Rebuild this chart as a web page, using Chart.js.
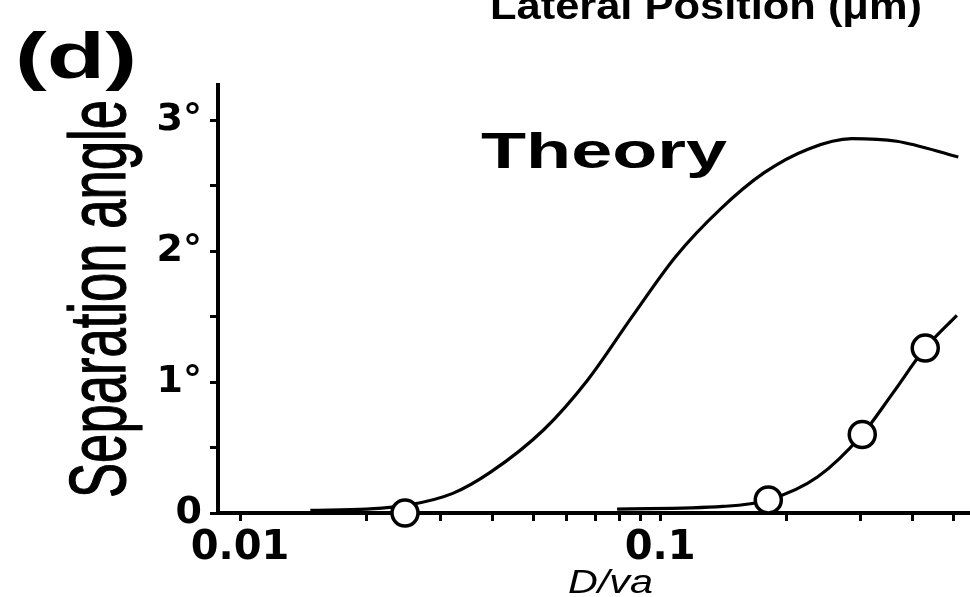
<!DOCTYPE html>
<html lang="en">
<head>
    <meta charset="UTF-8">
    <title>Separation angle vs D/va</title>
    <script src="https://cdn.jsdelivr.net/npm/chart.js"></script>
    <style>
        body { margin: 0; background: #fff; }
        canvas { display: block; }
    </style>
</head>
<body>
    <canvas id="angleChart" width="970" height="597"></canvas>

    <script>
        // Theory curve: separation angle (degrees) against D/va
        const theoryX = [0.0147, 0.020, 0.0251, 0.0321, 0.0394, 0.053, 0.0674, 0.0858, 0.109, 0.139, 0.177, 0.225, 0.286, 0.366, 0.513];
        const theoryY = [0.02, 0.03, 0.06, 0.15, 0.31, 0.64, 1.02, 1.50, 1.96, 2.32, 2.60, 2.78, 2.86, 2.84, 2.72];

        // Measured points and the curve through them
        const measuredX = [0.0247, 0.181, 0.303, 0.428];
        const measuredY = [0, 0.10, 0.60, 1.26];
        const fitX = [0.079, 0.141, 0.181, 0.237, 0.303, 0.359, 0.428, 0.509];
        const fitY = [0.03, 0.05, 0.10, 0.275, 0.60, 0.92, 1.26, 1.51];

        // Axis ticks
        const xTicks = [0.01, 0.02, 0.03, 0.04, 0.05, 0.06, 0.07, 0.08, 0.09, 0.1, 0.2, 0.3, 0.4, 0.5];
        const xTickLabels = { 0.01: '0.01', 0.1: '0.1' };
        const yTicks = [0, 0.5, 1, 1.5, 2, 2.5, 3];
        const yTickLabels = ['0', '', '1°', '', '2°', '', '3°'];

        const toPoints = (xs, ys) => xs.map((x, i) => ({ x: x, y: ys[i] }));

        // text squeezed/stretched horizontally to sit between left and right
        function wideText(ctx, str, font, left, right, baseline) {
            ctx.save();
            ctx.font = font;
            ctx.textAlign = 'left';
            ctx.textBaseline = 'alphabetic';
            const w = ctx.measureText(str).width;
            ctx.translate(left, baseline);
            ctx.scale((right - left) / w, 1);
            ctx.fillText(str, 0, 0);
            ctx.restore();
        }

        const labelsPlugin = {
            id: 'labels',
            afterDraw(chart) {
                const ctx = chart.ctx;
                ctx.fillStyle = '#000';
                wideText(ctx, '(d)', 'bold 64px "Liberation Sans"', 15, 137, 78);
                wideText(ctx, 'Lateral Position (μm)', 'bold 38px "Liberation Sans"', 490, 922, 19);
                wideText(ctx, 'Theory', 'bold 50px "Liberation Sans"', 481, 727, 168);
                wideText(ctx, 'D/va', 'italic 33px "Liberation Sans"', 568, 653, 593);

                // y axis title, rotated
                ctx.save();
                ctx.font = '53px "Liberation Sans"';
                ctx.textAlign = 'left';
                ctx.textBaseline = 'alphabetic';
                ctx.strokeStyle = '#000';
                ctx.lineWidth = 0.8;
                const w = ctx.measureText('Separation angle').width;
                ctx.translate(125, 498);
                ctx.scale(1.5, 1);
                ctx.rotate(-Math.PI / 2);
                ctx.scale(398 / w, 1);
                ctx.fillText('Separation angle', 0, 0);
                ctx.strokeText('Separation angle', 0, 0);
                ctx.restore();
            }
        };

        const ctx = document.getElementById('angleChart').getContext('2d');
        new Chart(ctx, {
            type: 'scatter',
            data: {
                datasets: [
                    {
                        label: 'Measured',
                        data: toPoints(measuredX, measuredY),
                        pointRadius: 13,
                        pointBorderWidth: 3.5,
                        pointBorderColor: '#000',
                        pointBackgroundColor: '#fff',
                        showLine: false,
                        clip: false,
                        order: 0
                    },
                    {
                        label: 'Theory',
                        data: toPoints(theoryX, theoryY),
                        showLine: true,
                        borderColor: '#000',
                        borderWidth: 3.2,
                        pointRadius: 0,
                        cubicInterpolationMode: 'monotone',
                        order: 1
                    },
                    {
                        label: 'Fit',
                        data: toPoints(fitX, fitY),
                        showLine: true,
                        borderColor: '#000',
                        borderWidth: 3.2,
                        pointRadius: 0,
                        cubicInterpolationMode: 'monotone',
                        order: 2
                    }
                ]
            },
            options: {
                responsive: false,
                animation: false,
                layout: {
                    autoPadding: false,
                    padding: { top: 85, right: 0, bottom: 0, left: 0 }
                },
                plugins: {
                    legend: { display: false },
                    tooltip: { enabled: false }
                },
                scales: {
                    x: {
                        type: 'logarithmic',
                        min: 0.00886,
                        max: 0.547,
                        afterBuildTicks: (scale) => {
                            scale.ticks = xTicks.map(v => ({ value: v }));
                        },
                        afterFit: (scale) => { scale.height = 84; },
                        border: { display: true, color: '#000', width: 4 },
                        grid: {
                            drawOnChartArea: false,
                            drawTicks: true,
                            tickLength: 8,
                            tickWidth: 3,
                            tickColor: '#000'
                        },
                        ticks: {
                            autoSkip: false,
                            maxRotation: 0,
                            padding: 4,
                            color: '#000',
                            font: { family: 'DejaVu Sans', weight: 'bold', size: 40 },
                            callback: (value) => xTickLabels[value] || ''
                        }
                    },
                    y: {
                        min: 0,
                        max: 3.27,
                        afterBuildTicks: (scale) => {
                            scale.ticks = yTicks.map(v => ({ value: v }));
                        },
                        afterFit: (scale) => { scale.width = 218; },
                        border: { display: true, color: '#000', width: 4 },
                        grid: {
                            drawOnChartArea: false,
                            drawTicks: true,
                            tickLength: 8,
                            tickWidth: 3,
                            tickColor: '#000'
                        },
                        ticks: {
                            autoSkip: false,
                            padding: 8,
                            color: '#000',
                            font: { family: 'DejaVu Sans', weight: 'bold', size: 38 },
                            callback: (value, index) => yTickLabels[index]
                        }
                    }
                }
            },
            plugins: [labelsPlugin]
        });
    </script>
</body>
</html>
